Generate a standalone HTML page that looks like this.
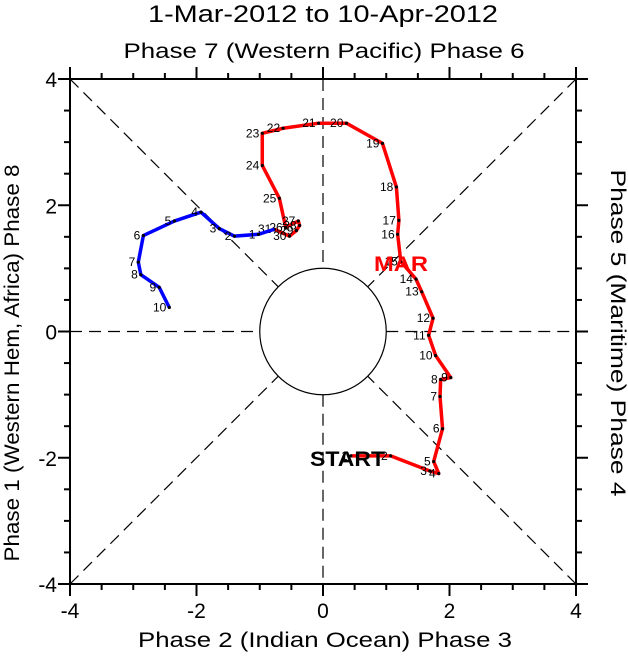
<!DOCTYPE html>
<html><head><meta charset="utf-8"><style>
html,body{margin:0;padding:0;background:#fff}
svg{display:block;font-family:"Liberation Sans",sans-serif}
</style></head><body>
<svg id="chart" width="628" height="656" viewBox="0 0 628 656" xmlns="http://www.w3.org/2000/svg">
<text x="323" y="22" font-size="24" text-anchor="middle" textLength="350" lengthAdjust="spacingAndGlyphs">1-Mar-2012 to 10-Apr-2012</text>
<text x="324" y="58" font-size="21" text-anchor="middle" textLength="401" lengthAdjust="spacingAndGlyphs">Phase 7 (Western Pacific) Phase 6</text>
<text x="325" y="647" font-size="21" text-anchor="middle" textLength="374" lengthAdjust="spacingAndGlyphs">Phase 2 (Indian Ocean) Phase 3</text>
<text transform="translate(19,363) rotate(-90)" font-size="21" text-anchor="middle" textLength="397" lengthAdjust="spacingAndGlyphs">Phase 1 (Western Hem, Africa) Phase 8</text>
<text transform="translate(611,333) rotate(90)" font-size="21" text-anchor="middle" textLength="327" lengthAdjust="spacingAndGlyphs">Phase 5 (Maritime) Phase 4</text>
<g id="grid"></g>
<g id="axes"></g>
<g id="series"></g>
</svg>
<script>
const ticks = [-4,-2,0,2,4];
const marDays = ["1","2","3","4","5","6","7","8","9","10","11","12","13","14","15","16","17","18","19","20","21","22","23","24","25","26","27","28","29","30","31"];
const marRMM1 = [0.44,1.07,1.69,1.83,1.75,1.89,1.85,1.86,2.02,1.78,1.67,1.74,1.56,1.47,1.23,1.18,1.20,1.16,0.94,0.37,-0.07,-0.63,-0.96,-0.96,-0.69,-0.59,-0.39,-0.37,-0.42,-0.53,-0.77];
const marRMM2 = [-1.97,-1.97,-2.21,-2.25,-2.06,-1.54,-1.03,-0.76,-0.73,-0.38,-0.06,0.21,0.63,0.83,1.11,1.54,1.76,2.29,2.98,3.30,3.30,3.22,3.14,2.63,2.11,1.65,1.75,1.68,1.60,1.51,1.62];
const aprDays = ["1","2","3","4","5","6","7","8","9","10"];
const aprRMM1 = [-1.02,-1.40,-1.64,-1.93,-2.35,-2.84,-2.92,-2.88,-2.59,-2.43];
const aprRMM2 = [1.54,1.51,1.63,1.89,1.75,1.52,1.10,0.90,0.70,0.38];

const L=70,R=576,T=79,B=584;
const sx=v=>L+(v+4)*(R-L)/8;
const sy=v=>B-(v+4)*(B-T)/8;
const NS="http://www.w3.org/2000/svg";
function mk(tag,parent,attrs){const e=document.createElementNS(NS,tag);for(const k in attrs)e.setAttribute(k,attrs[k]);parent.appendChild(e);return e;}
const grid=document.getElementById('grid'),axes=document.getElementById('axes'),series=document.getElementById('series');
const cx=sx(0),cy=sy(0),rr=sx(1)-sx(0);
const dash={stroke:"#000","stroke-width":1.2,"stroke-dasharray":"12,7",fill:"none"};
let g;
g=mk('line',grid,Object.assign({x1:L,y1:cy,x2:cx-rr,y2:cy},dash));

g=mk('line',grid,Object.assign({x1:cx+rr,y1:cy,x2:R,y2:cy},dash));

g=mk('line',grid,Object.assign({x1:cx,y1:T,x2:cx,y2:cy-rr},dash));

g=mk('line',grid,Object.assign({x1:cx,y1:cy+rr,x2:cx,y2:B},dash));

const d=rr/Math.SQRT2;
[[L,T,-1,-1],[R,T,1,-1],[L,B,-1,1],[R,B,1,1]].forEach(c=>{
  const e=mk('line',grid,Object.assign({x1:c[0],y1:c[1],x2:cx+c[2]*d,y2:cy+c[3]*d},dash));
  
  
});
g=mk('circle',grid,{cx:cx,cy:cy,r:rr,fill:"#fff",stroke:"#000","stroke-width":1.2});

g=mk('rect',axes,{x:L,y:T,width:R-L,height:B-T,fill:"none",stroke:"#000","stroke-width":2});

for(let v=-4;v<=4.001;v+=0.5){
  const major=Math.abs(v-Math.round(v))<1e-6&&Math.round(v)%2===0;
  const len=major?12:6;
  const x=sx(v),y=sy(v);
  mk('line',axes,{x1:x,y1:B,x2:x,y2:B+len,stroke:"#000","stroke-width":2});
  mk('line',axes,{x1:x,y1:T,x2:x,y2:T-len,stroke:"#000","stroke-width":2});
  mk('line',axes,{x1:L,y1:y,x2:L-len,y2:y,stroke:"#000","stroke-width":2});
  mk('line',axes,{x1:R,y1:y,x2:R+len,y2:y,stroke:"#000","stroke-width":2});
}
ticks.forEach(t=>{
  const a=mk('text',axes,{x:sx(t),y:B+34,"font-size":21,"text-anchor":"middle"});a.textContent=t;
  
  
  const b=mk('text',axes,{x:L-13,y:sy(t)+8,"font-size":21,"text-anchor":"end"});b.textContent=t;
  
  
});
function drawSeries(xs,ys,labels,color,name,prev){
  let pts=xs.map((v,i)=>sx(v)+","+sy(ys[i]));
  if(prev)pts.unshift(sx(prev[0])+","+sy(prev[1]));
  const pl=mk('polyline',series,{points:pts.join(" "),fill:"none",stroke:color,"stroke-width":3.5,"stroke-linejoin":"round"});
  
  
  xs.forEach((v,i)=>{
    const c=mk('circle',series,{cx:sx(v),cy:sy(ys[i]),r:1.6,fill:"#000"});
    
    
    const t=mk('text',series,{x:sx(v)-3,y:sy(ys[i])+4,"font-size":12,"text-anchor":"end"});
    t.textContent=labels[i];
    
    
  });
}
drawSeries(marRMM1,marRMM2,marDays,"#f00","march");
drawSeries(aprRMM1,aprRMM2,aprDays,"#00f","april",[marRMM1[30],marRMM2[30]]);
g=mk('text',series,{x:310,y:466,"font-size":21,"font-weight":"bold",fill:"#000",textLength:75,lengthAdjust:"spacingAndGlyphs"});
g.textContent="START";

g=mk('text',series,{x:374,y:271,"font-size":21,"font-weight":"bold",fill:"#f00",textLength:54,lengthAdjust:"spacingAndGlyphs"});
g.textContent="MAR";

</script>
</body></html>
